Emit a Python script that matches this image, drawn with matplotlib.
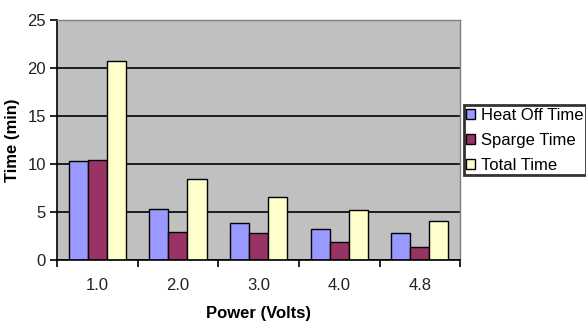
import numpy as np
import matplotlib.pyplot as plt

plt.rcParams['font.family'] = ['Liberation Sans', 'DejaVu Sans']

voltages = ['1.0', '2.0', '3.0', '4.0', '4.8']
heat_off = [10.3, 5.3, 3.9, 3.2, 2.8]
sparge = [10.4, 2.9, 2.8, 1.9, 1.35]
total = [20.7, 8.4, 6.6, 5.25, 4.05]

series = [('Heat Off Time', heat_off, '#9999FF'),
          ('Sparge Time', sparge, '#993366'),
          ('Total Time', total, '#FFFFCC')]

fig = plt.figure(figsize=(5.86, 3.28), dpi=100)
ax = fig.add_axes([0.0973, 0.207, 0.688, 0.732])
ax.set_facecolor('#C0C0C0')

x = np.arange(len(voltages))
w = 0.236
for i, (name, vals, col) in enumerate(series):
    ax.bar(x + (i - 1) * w, vals, w, color=col, edgecolor='black',
           linewidth=1, label=name, zorder=3)

ax.set_ylim(0, 25)
ax.set_xlim(-0.5, len(voltages) - 0.5)
ax.set_yticks(range(0, 26, 5))
ax.yaxis.grid(True, color='black', linewidth=1.2, zorder=1)

# category boundaries get the tick marks, labels sit in the middle
ax.set_xticks(np.arange(-0.5, len(voltages), 1))
ax.set_xticklabels([])
ax.set_xticks(x, minor=True)
ax.set_xticklabels(voltages, minor=True)
ax.tick_params(axis='x', which='major', length=5, width=1.2, direction='out')
ax.tick_params(axis='x', which='minor', length=0, pad=13, labelsize=12,
               labelcolor='#222222')
ax.tick_params(axis='y', length=5, width=1.2, labelsize=12, pad=3,
               labelcolor='#222222')

for s in ['left', 'bottom']:
    ax.spines[s].set_linewidth(1.2)
    ax.spines[s].set_color('black')
for s in ['top', 'right']:
    ax.spines[s].set_color('#808080')
    ax.spines[s].set_linewidth(1)
ax.spines['bottom'].set_zorder(4)

ax.set_xlabel('Power (Volts)', fontsize=12, fontweight='bold', labelpad=9)
ax.set_ylabel('Time (min)', fontsize=12, fontweight='bold', labelpad=5)

leg = fig.legend(loc='center left', bbox_to_anchor=(0.791, 0.573),
                 fontsize=12, frameon=True, fancybox=False,
                 handlelength=0.55, handleheight=0.55, handletextpad=0.35,
                 borderpad=0.15, labelspacing=0.6, borderaxespad=0)
leg.get_frame().set_edgecolor('black')
leg.get_frame().set_linewidth(2)

fig.savefig('out.png', dpi=100)
